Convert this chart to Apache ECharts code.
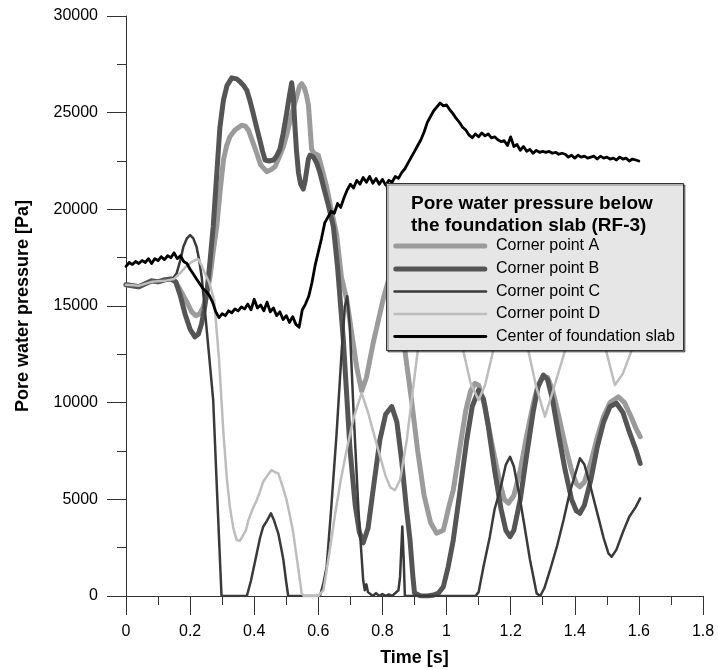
<!DOCTYPE html>
<html><head><meta charset="utf-8">
<script src="https://cdn.jsdelivr.net/npm/echarts@6/dist/echarts.min.js"></script>
<style>html,body{margin:0;padding:0;background:#fff}#c{width:718px;height:670px}</style>
</head><body><div id="c"></div><script>
// ---- data ----
const seriesNames = ['Corner point A', 'Corner point B', 'Corner point C', 'Corner point D', 'Center of foundation slab'];
const legendTitle = 'Pore water pressure below\nthe foundation slab (RF-3)';
const xTicks = [0, 0.2, 0.4, 0.6, 0.8, 1, 1.2, 1.4, 1.6, 1.8];
const yTicks = [0, 5000, 10000, 15000, 20000, 25000, 30000];

const aX = [0,0.02,0.04,0.06,0.08,0.1,0.12,0.14,0.155,0.17,0.19,0.205,0.218,0.23,0.241,0.252,0.262,0.272,0.283,0.294,0.304,0.314,0.324,0.34,0.361,0.372,0.382,0.395,0.408,0.42,0.439,0.452,0.465,0.478,0.491,0.502,0.512,0.523,0.533,0.541,0.548,0.556,0.563,0.569,0.574,0.579,0.587,0.6,0.613,0.626,0.64,0.657,0.672,0.689,0.705,0.72,0.735,0.75,0.77,0.803,0.825,0.845,0.862,0.87,0.891,0.91,0.93,0.95,0.969,0.99,1.01,1.021,1.04,1.06,1.075,1.089,1.1,1.12,1.14,1.167,1.18,1.193,1.21,1.23,1.25,1.27,1.285,1.302,1.315,1.33,1.35,1.37,1.39,1.405,1.416,1.43,1.45,1.47,1.49,1.51,1.536,1.555,1.575,1.59,1.604];
const aY = [16100,16050,16000,16150,16300,16250,16350,16400,16250,15800,15200,14700,14500,14600,14950,15600,16500,17800,19100,21000,22550,23300,23750,24100,24350,24300,24100,23500,22900,22300,21950,22050,22200,22700,23250,23900,24600,25300,25850,26350,26500,26300,25900,25400,24300,23100,22900,22800,22000,21150,20000,18700,16500,15300,13500,11800,10600,11300,13000,15400,16700,16900,14500,12700,10100,7500,5200,3800,3250,3400,4800,5480,7500,9600,10600,11000,10900,9800,8000,5800,5000,4800,5200,6500,8300,9900,10900,11350,11300,10700,9300,7800,6500,5800,5650,5900,6900,8200,9300,10000,10300,10000,9300,8700,8240];

const bX = [0,0.02,0.04,0.06,0.08,0.1,0.12,0.14,0.155,0.17,0.184,0.2,0.215,0.226,0.236,0.244,0.252,0.262,0.272,0.283,0.293,0.304,0.315,0.33,0.345,0.356,0.367,0.377,0.387,0.397,0.408,0.418,0.426,0.434,0.447,0.46,0.47,0.48,0.49,0.501,0.509,0.517,0.522,0.527,0.532,0.538,0.545,0.553,0.558,0.564,0.569,0.574,0.585,0.595,0.605,0.616,0.63,0.647,0.66,0.678,0.699,0.715,0.728,0.74,0.755,0.775,0.792,0.81,0.829,0.845,0.86,0.875,0.886,0.895,0.9,0.92,0.94,0.96,0.975,0.99,1.005,1.021,1.04,1.063,1.08,1.1,1.115,1.13,1.15,1.17,1.185,1.198,1.21,1.23,1.25,1.27,1.285,1.302,1.315,1.33,1.35,1.37,1.39,1.405,1.416,1.43,1.45,1.47,1.49,1.51,1.53,1.55,1.57,1.59,1.604];
const bY = [16100,16050,16000,16150,16300,16250,16350,16400,16250,15500,14600,13800,13400,13550,14100,14800,15650,17300,19100,21800,24250,25650,26400,26800,26750,26600,26400,26150,25600,24950,24200,23550,23000,22550,22500,22550,22750,23100,23900,24950,25800,26550,25800,24300,23000,21900,21300,21050,21400,22050,22600,22800,22700,22400,21900,21170,20300,19100,17000,13240,7550,4700,3300,2750,3500,6000,8070,9400,9800,9000,7000,4500,2900,1000,150,0,0,50,150,480,1500,2900,5200,8070,9800,10650,10200,8800,6500,4500,3400,3070,3400,5000,7300,9500,10800,11430,11200,10200,8300,6500,5000,4400,4280,4700,6000,7700,9000,9800,9970,9500,8500,7600,6860];

const cX = [0,0.04,0.08,0.12,0.145,0.158,0.17,0.179,0.19,0.2,0.21,0.22,0.228,0.236,0.246,0.26,0.272,0.285,0.298,0.377,0.39,0.408,0.418,0.428,0.44,0.452,0.462,0.475,0.485,0.491,0.5,0.506,0.605,0.615,0.626,0.64,0.657,0.673,0.683,0.69,0.698,0.71,0.725,0.74,0.745,0.75,0.755,0.76,0.77,0.78,0.79,0.8,0.81,0.82,0.83,0.84,0.85,0.855,0.862,0.866,0.87,1.09,1.1,1.115,1.135,1.15,1.167,1.185,1.198,1.21,1.225,1.24,1.26,1.281,1.292,1.305,1.323,1.345,1.365,1.385,1.396,1.416,1.43,1.45,1.47,1.49,1.505,1.515,1.53,1.55,1.57,1.59,1.604];
const cY = [16100,16050,16250,16300,16400,16690,17400,18065,18500,18670,18500,18065,17400,16515,14800,12300,10137,5000,0,0,800,2208,3000,3584,3900,4277,3900,3240,2400,1862,700,0,0,600,1515,4500,8415,12723,15000,15500,14000,9500,4500,800,300,600,200,100,0,150,0,100,0,80,0,150,300,1000,3600,2000,0,0,200,1500,3070,4500,5480,6800,7200,6700,5400,3930,1900,140,0,400,1345,2600,3930,5400,6000,7120,6800,5600,4300,3000,2200,2030,2400,3300,4100,4600,5050];

const dX = [0,0.04,0.08,0.12,0.15,0.168,0.185,0.2,0.215,0.226,0.236,0.246,0.26,0.275,0.29,0.304,0.315,0.324,0.335,0.345,0.355,0.366,0.374,0.382,0.395,0.408,0.418,0.428,0.44,0.454,0.465,0.475,0.488,0.501,0.512,0.522,0.535,0.548,0.555,0.6,0.616,0.635,0.652,0.67,0.689,0.71,0.735,0.755,0.787,0.81,0.825,0.839,0.855,0.876,0.89,0.905,0.917,0.94,0.96,0.98,1,1.02,1.04,1.052,1.075,1.1,1.12,1.146,1.17,1.2,1.23,1.255,1.28,1.307,1.33,1.37,1.4,1.42,1.45,1.489,1.525,1.55,1.582,1.6];
const dY = [16100,16050,16250,16300,16400,16690,17000,17207,17380,17415,17100,16690,16200,15300,12300,8415,6000,4620,3500,2900,2850,3155,3400,3930,4500,4965,5400,5910,6200,6517,6400,6345,5700,4965,4100,3240,1700,140,0,0,300,2300,4200,6000,7600,9200,10500,9500,7550,6200,5600,5480,6000,8070,10000,12000,13500,16000,17000,17200,16500,15200,13500,12700,11000,10137,10900,12723,15000,16500,16000,12700,10800,9273,10500,12723,15500,16200,15500,13240,10913,11500,12900,13500];

const centerX = [0,0.01,0.02,0.03,0.04,0.05,0.06,0.07,0.08,0.09,0.1,0.11,0.12,0.13,0.14,0.15,0.16,0.17,0.18,0.19,0.2,0.21,0.22,0.23,0.24,0.25,0.26,0.27,0.28,0.29,0.3,0.31,0.32,0.33,0.34,0.35,0.36,0.37,0.38,0.39,0.4,0.41,0.42,0.43,0.44,0.45,0.46,0.47,0.48,0.49,0.5,0.51,0.52,0.53,0.54,0.55,0.56,0.57,0.58,0.59,0.6,0.61,0.62,0.63,0.64,0.65,0.66,0.67,0.68,0.69,0.7,0.71,0.72,0.73,0.74,0.75,0.76,0.77,0.78,0.79,0.8,0.81,0.82,0.83,0.84,0.85,0.86,0.87,0.88,0.89,0.9,0.91,0.92,0.93,0.94,0.95,0.96,0.97,0.98,0.99,1,1.01,1.02,1.03,1.04,1.05,1.06,1.07,1.08,1.09,1.1,1.11,1.12,1.13,1.14,1.15,1.16,1.17,1.18,1.19,1.2,1.21,1.22,1.23,1.24,1.25,1.26,1.27,1.28,1.29,1.3,1.31,1.32,1.33,1.34,1.35,1.36,1.37,1.38,1.39,1.4,1.41,1.42,1.43,1.44,1.45,1.46,1.47,1.48,1.49,1.5,1.51,1.52,1.53,1.54,1.55,1.56,1.57,1.58,1.59,1.6];
const centerY = [17050,17250,17150,17300,17200,17350,17250,17450,17200,17450,
17350,17550,17400,17600,17500,17750,17450,17600,17300,17200,
16900,16650,16400,16150,15900,15750,15550,15200,14700,14400,
14600,14500,14750,14650,14850,14750,14950,14850,15100,14800,
15350,14900,15050,14750,15200,14700,14900,14500,14700,14300,
14500,14150,14450,14050,13900,14800,15100,15500,16200,17100,
17800,18500,19300,19600,19900,19800,20300,20100,20600,21000,
21300,21100,21500,21300,21650,21400,21700,21350,21600,21300,
21550,21250,21500,21400,21700,21600,21900,22100,22400,22700,
23000,23300,23600,24000,24500,24800,25100,25300,25500,25350,
25400,25150,24950,24700,24500,24250,24100,23850,23700,23900,
23750,23950,23800,23900,23700,23750,23600,23500,23550,23300,
23750,23250,23350,23050,23250,23000,23100,22900,23050,22950,
23000,22950,23000,22900,22950,22850,22900,22850,22700,22800,
22650,22800,22700,22750,22650,22700,22750,22600,22750,22650,
22700,22600,22650,22550,22700,22600,22650,22500,22600,22550,
22500];

// ---- styles ----
const FONT = '"Liberation Sans", Arial, Helvetica, sans-serif';
const colors = ['#9b9b9b', '#555555', '#3a3a3a', '#bdbdbd', '#000000'];
const widths = [5, 5, 2.5, 2.5, 2.8];
const dataX = [aX, bX, cX, dX, centerX];
const dataY = [aY, bY, cY, dY, centerY];

function zip(xs, ys) { return xs.map((x, i) => [x, ys[i]]); }

const chart = echarts.init(document.getElementById('c'), null, { renderer: 'canvas' });

const axisCommon = {
  type: 'value',
  splitLine: { show: false },
  axisLine: { show: true, onZero: false, lineStyle: { color: '#333', width: 1 } },
  axisTick: { show: true, inside: false, length: 19, lineStyle: { color: '#333', width: 1 } },
  minorTick: { show: true, splitNumber: 2, length: 9, lineStyle: { color: '#333', width: 1 } },
  minorSplitLine: { show: false },
  axisLabel: { color: '#000', fontSize: 16, fontFamily: FONT, formatter: v => String(v) },
  nameLocation: 'middle',
  nameTextStyle: { color: '#000', fontSize: 18, fontWeight: 'bold', fontFamily: FONT }
};

// legend box (drawn as graphic elements on top of the plot)
const legendBox = { x: 386.5, y: 183.5, w: 297, h: 167 };
const legendRows = [246, 269, 291.5, 314, 336.5];
const legendGraphic = [
  { type: 'rect', z: 100, shape: { x: legendBox.x, y: legendBox.y, width: legendBox.w, height: legendBox.h },
    style: { fill: '#e6e6e6', stroke: '#333', lineWidth: 1, shadowColor: 'rgba(0,0,0,0.45)', shadowOffsetX: 1.5, shadowOffsetY: 1.5, shadowBlur: 0 } },
  { type: 'text', z: 101, x: 411, y: 192.5,
    style: { text: legendTitle, fill: '#000', font: 'bold 19px ' + FONT, lineHeight: 22 } }
];
seriesNames.forEach((n, i) => {
  legendGraphic.push({ type: 'line', z: 101, shape: { x1: 393.3 + widths[i] / 2, y1: legendRows[i], x2: 487.3 - widths[i] / 2, y2: legendRows[i] },
    style: { stroke: colors[i], lineWidth: widths[i], lineCap: 'round' } });
  legendGraphic.push({ type: 'text', z: 101, x: 496, y: legendRows[i],
    style: { text: n, fill: '#000', font: '16px ' + FONT, verticalAlign: 'middle', align: 'left' } });
});

chart.setOption({
  animation: false,
  backgroundColor: '#ffffff',
  grid: { left: 126, right: 15, top: 16, bottom: 74, containLabel: false, outerBoundsMode: 'none' },
  xAxis: Object.assign({}, axisCommon, {
    min: xTicks[0], max: xTicks[xTicks.length - 1], interval: xTicks[1] - xTicks[0],
    name: 'Time [s]', nameGap: 53,
    axisLabel: Object.assign({}, axisCommon.axisLabel, { margin: 28 })
  }),
  yAxis: Object.assign({}, axisCommon, {
    min: yTicks[0], max: yTicks[yTicks.length - 1], interval: yTicks[1] - yTicks[0],
    name: 'Pore water pressure [Pa]', nameGap: 94,
    axisLabel: Object.assign({}, axisCommon.axisLabel, { margin: 28 })
  }),
  graphic: { elements: legendGraphic },
  series: seriesNames.map((n, i) => ({
    type: 'line', name: n,
    data: zip(dataX[i], dataY[i]),
    symbol: 'none', smooth: false, clip: true,
    lineStyle: { color: colors[i], width: widths[i], cap: 'round', join: 'round' },
    itemStyle: { color: colors[i] },
    emphasis: { disabled: true }
  }))
});
</script></body></html>
